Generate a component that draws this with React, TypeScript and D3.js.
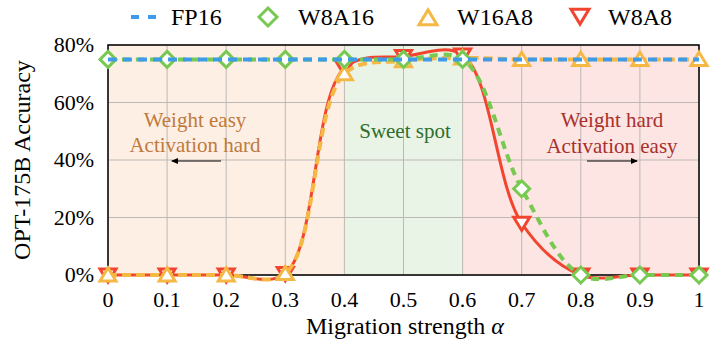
import React from "react";
import * as d3 from "d3";

// migration strength values on the x axis
const alphas = [0, 0.1, 0.2, 0.3, 0.4, 0.5, 0.6, 0.7, 0.8, 0.9, 1];
// accuracy (%) per series
const fp16 = [75, 75, 75, 75, 75, 75, 75, 75, 75, 75, 75];
const w8a16 = [75, 75, 75, 75, 75, 75, 75, 30, 0, 0, 0];
const w16a8 = [0, 0, 0, 0.5, 70, 74.5, 75.5, 75, 75, 75, 75];
const w8a8 = [0, 0, 0, 0.5, 72, 76, 76.5, 18, 0, 0, 0];
const yTicks = [0, 20, 40, 60, 80];
const xTicks = [0, 0.1, 0.2, 0.3, 0.4, 0.5, 0.6, 0.7, 0.8, 0.9, 1];

const W = 720;
const H = 359;
const margin = { top: 45, right: 21, bottom: 84, left: 108 };
const FONT = "Liberation Serif";

const C_BLUE = "#3d9be9";
const C_GREEN = "#78c951";
const C_ORANGE = "#f6b845";
const C_RED = "#f2452f";

const x = d3.scaleLinear().domain([0, 1]).range([margin.left, W - margin.right]);
const y = d3.scaleLinear().domain([0, 80]).range([H - margin.bottom, margin.top]);

const line = d3
    .line<number>()
    .x((d, i) => x(alphas[i]))
    .y((d) => y(d))
    .curve(d3.curveCatmullRom.alpha(0.5));

const triUp = (cx: number, cy: number, s: number) =>
    `M${cx},${cy - s * 0.9} L${cx + s},${cy + s * 0.75} L${cx - s},${cy + s * 0.75} Z`;
const triDown = (cx: number, cy: number, s: number) =>
    `M${cx},${cy + s * 0.9} L${cx + s},${cy - s * 0.75} L${cx - s},${cy - s * 0.75} Z`;
const diamond = (cx: number, cy: number, s: number) =>
    `M${cx},${cy - s} L${cx + s},${cy} L${cx},${cy + s} L${cx - s},${cy} Z`;

const App = () => {
    const top = margin.top;
    const bottom = H - margin.bottom;
    return (
        <svg width={W} height={H} style={{ display: "block", position: "absolute", left: 0, top: 0, fontFamily: FONT }}>
            <defs>
                <marker id="arr" markerWidth="8" markerHeight="8" refX="6" refY="4" orient="auto" markerUnits="userSpaceOnUse">
                    <path d="M0,1 L7,4 L0,7 Z" fill="#000" />
                </marker>
            </defs>
            {/* region shading */}
            <rect x={x(0)} y={top} width={x(0.4) - x(0)} height={bottom - top} fill="#fdefe4" />
            <rect x={x(0.4)} y={top} width={x(0.6) - x(0.4)} height={bottom - top} fill="#e9f4e7" />
            <rect x={x(0.6)} y={top} width={x(1) - x(0.6)} height={bottom - top} fill="#fce5e3" />

            {/* grid */}
            {xTicks.map((t) => (
                <line key={"gx" + t} x1={x(t)} x2={x(t)} y1={top} y2={bottom} stroke="#bdb8b5" strokeWidth={1} />
            ))}
            {yTicks.map((t) => (
                <line key={"gy" + t} x1={x(0)} x2={x(1)} y1={y(t)} y2={y(t)} stroke="#bdb8b5" strokeWidth={1} />
            ))}
            <rect x={x(0)} y={top} width={x(1) - x(0)} height={bottom - top} fill="none" stroke="#000" strokeWidth={1.5} />

            {/* annotations */}
            <g fontSize={21} textAnchor="middle">
                <text x={195} y={127} fill="#bf7a3c">Weight easy</text>
                <text x={195} y={152} fill="#bf7a3c">Activation hard</text>
                <text x={405} y={138} fill="#2f6e2c">Sweet spot</text>
                <text x={612} y={127} fill="#a8302b">Weight hard</text>
                <text x={612} y={153} fill="#a8302b">Activation easy</text>
            </g>
            <line x1={221} x2={172} y1={161} y2={161} stroke="#000" strokeWidth={1.2} markerEnd="url(#arr)" />
            <line x1={587} x2={637} y1={161} y2={161} stroke="#000" strokeWidth={1.2} markerEnd="url(#arr)" />

            {/* W8A8 */}
            <path d={line(w8a8) || ""} fill="none" stroke={C_RED} strokeWidth={3} />
            {w8a8.map((v, i) => (
                <path key={"r" + i} d={triDown(x(alphas[i]), y(v), 8)} fill="#fff" stroke={C_RED} strokeWidth={3} strokeLinejoin="miter" />
            ))}
            {/* W16A8 */}
            <path d={line(w16a8) || ""} fill="none" stroke={C_ORANGE} strokeWidth={4} strokeDasharray="9,5" />
            {w16a8.map((v, i) => (
                <path key={"o" + i} d={triUp(x(alphas[i]), y(v), 8)} fill="#fff" stroke={C_ORANGE} strokeWidth={3} />
            ))}
            {/* W8A16 */}
            <path d={line(w8a16) || ""} fill="none" stroke={C_GREEN} strokeWidth={4} strokeDasharray="8,6" />
            {w8a16.map((v, i) => (
                <path key={"g" + i} d={diamond(x(alphas[i]), y(v), 8)} fill="#fff" stroke={C_GREEN} strokeWidth={3} />
            ))}
            {/* FP16 */}
            <path d={line(fp16) || ""} fill="none" stroke={C_BLUE} strokeWidth={4} strokeDasharray="9,6" />

            {/* axes labels */}
            <g fontSize={22} fill="#000">
                {yTicks.map((t) => (
                    <text key={"yl" + t} x={x(0) - 14} y={y(t) + 7} textAnchor="end">{t}%</text>
                ))}
                {xTicks.map((t) => (
                    <text key={"xl" + t} x={x(t)} y={bottom + 32} textAnchor="middle">{t}</text>
                ))}
            </g>
            <text x={405} y={334} fontSize={24} textAnchor="middle">
                Migration strength <tspan fontStyle="italic">α</tspan>
            </text>
            <text transform={`translate(30,${(top + bottom) / 2}) rotate(-90)`} fontSize={24} textAnchor="middle">
                OPT-175B Accuracy
            </text>

            {/* legend */}
            <g fontSize={24}>
                <line x1={131} x2={156} y1={17} y2={17} stroke={C_BLUE} strokeWidth={4} strokeDasharray="8,9" />
                <text x={171} y={25}>FP16</text>
                <path d={diamond(268, 17, 9)} fill="#fff" stroke={C_GREEN} strokeWidth={3} />
                <text x={298} y={25}>W8A16</text>
                <path d={triUp(428, 18, 9)} fill="#fff" stroke={C_ORANGE} strokeWidth={3} />
                <text x={457} y={25}>W16A8</text>
                <path d={triDown(580, 16, 9)} fill="#fff" stroke={C_RED} strokeWidth={3} />
                <text x={608} y={25}>W8A8</text>
            </g>
        </svg>
    );
};

export default App;
